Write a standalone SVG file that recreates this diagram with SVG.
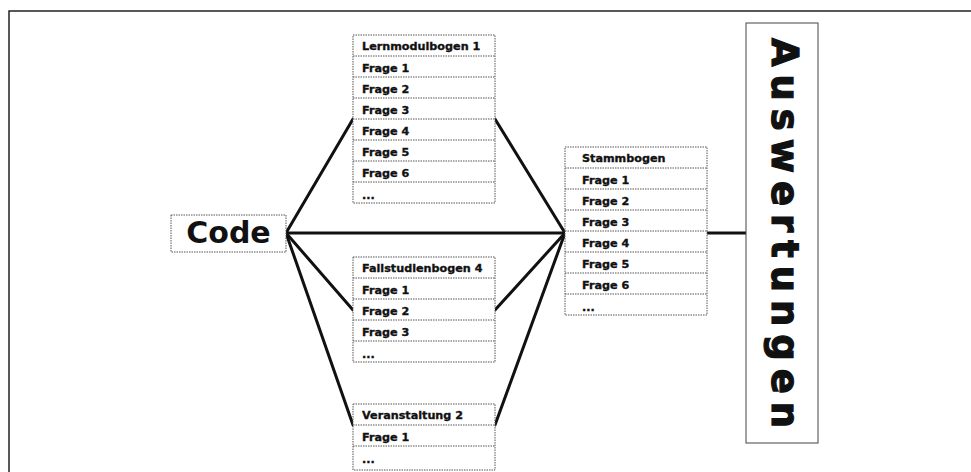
<svg xmlns="http://www.w3.org/2000/svg" width="971" height="472" viewBox="0 0 971 472">
<style>
.box{fill:#fff;stroke:#555;stroke-width:1;stroke-dasharray:1.5 1}
.sep{stroke:#555;stroke-width:1;stroke-dasharray:1.5 1}
.t{font-family:"DejaVu Sans",Verdana,sans-serif;font-weight:bold;font-size:11.2px;fill:#111;stroke:#111;stroke-width:0.35}
.con{stroke:#111;stroke-width:3;fill:none;stroke-linecap:round}
.frame{stroke:#222;stroke-width:1.5;fill:none}
</style>
<rect width="971" height="472" fill="#fff"/>
<path class="frame" d="M9,472 V11 H971"/>
<g id="connectors">
<line class="con" x1="286" y1="233" x2="565" y2="233"/>
<line class="con" x1="286" y1="233" x2="353" y2="119"/>
<line class="con" x1="286" y1="233" x2="353" y2="310"/>
<line class="con" x1="286" y1="233" x2="353" y2="425"/>
<line class="con" x1="495" y1="119" x2="565" y2="233"/>
<line class="con" x1="495" y1="310" x2="565" y2="233"/>
<line class="con" x1="495" y1="425" x2="565" y2="233"/>
<line class="con" x1="707" y1="233" x2="746" y2="233"/>
</g>
<g id="code">
<rect class="box" x="171" y="215" width="115" height="37"/>
<text x="228.5" y="243" text-anchor="middle" style="font-family:'DejaVu Sans',Verdana,sans-serif;font-weight:bold;font-size:30px;fill:#111">Code</text>
</g>
<g id="lernmodulbogen">
<rect class="box" x="353" y="35" width="142" height="168"/>
<line class="sep" x1="353" y1="56" x2="495" y2="56"/>
<line class="sep" x1="353" y1="77" x2="495" y2="77"/>
<line class="sep" x1="353" y1="98" x2="495" y2="98"/>
<line class="sep" x1="353" y1="119" x2="495" y2="119"/>
<line class="sep" x1="353" y1="140" x2="495" y2="140"/>
<line class="sep" x1="353" y1="161" x2="495" y2="161"/>
<line class="sep" x1="353" y1="182" x2="495" y2="182"/>
<text class="t" x="362" y="50">Lernmodulbogen 1</text>
<text class="t" x="362" y="72">Frage 1</text>
<text class="t" x="362" y="93">Frage 2</text>
<text class="t" x="362" y="114">Frage 3</text>
<text class="t" x="362" y="135">Frage 4</text>
<text class="t" x="362" y="156">Frage 5</text>
<text class="t" x="362" y="177">Frage 6</text>
<text class="t" x="362" y="199">...</text>
</g>
<g id="fallstudienbogen">
<rect class="box" x="353" y="257" width="142" height="105"/>
<line class="sep" x1="353" y1="278" x2="495" y2="278"/>
<line class="sep" x1="353" y1="299" x2="495" y2="299"/>
<line class="sep" x1="353" y1="320" x2="495" y2="320"/>
<line class="sep" x1="353" y1="341" x2="495" y2="341"/>
<text class="t" x="362" y="272">Fallstudienbogen 4</text>
<text class="t" x="362" y="294">Frage 1</text>
<text class="t" x="362" y="315">Frage 2</text>
<text class="t" x="362" y="336">Frage 3</text>
<text class="t" x="362" y="358">...</text>
</g>
<g id="veranstaltung">
<rect class="box" x="353" y="404" width="142" height="66"/>
<line class="sep" x1="353" y1="425" x2="495" y2="425"/>
<line class="sep" x1="353" y1="446" x2="495" y2="446"/>
<text class="t" x="362" y="419">Veranstaltung 2</text>
<text class="t" x="362" y="441">Frage 1</text>
<text class="t" x="362" y="463">...</text>
</g>
<g id="stammbogen">
<rect class="box" x="565" y="147" width="142" height="168"/>
<line class="sep" x1="565" y1="168" x2="707" y2="168"/>
<line class="sep" x1="565" y1="189" x2="707" y2="189"/>
<line class="sep" x1="565" y1="210" x2="707" y2="210"/>
<line class="sep" x1="565" y1="231" x2="707" y2="231"/>
<line class="sep" x1="565" y1="252" x2="707" y2="252"/>
<line class="sep" x1="565" y1="273" x2="707" y2="273"/>
<line class="sep" x1="565" y1="294" x2="707" y2="294"/>
<text class="t" x="582" y="162">Stammbogen</text>
<text class="t" x="582" y="184">Frage 1</text>
<text class="t" x="582" y="205">Frage 2</text>
<text class="t" x="582" y="226">Frage 3</text>
<text class="t" x="582" y="247">Frage 4</text>
<text class="t" x="582" y="268">Frage 5</text>
<text class="t" x="582" y="289">Frage 6</text>
<text class="t" x="582" y="311">...</text>
</g>
<g id="auswertungen">
<rect x="746" y="23" width="72" height="420" fill="#fff" stroke="#444" stroke-width="1"/>
<text transform="translate(772,38) rotate(90)" x="0" y="0" textLength="390" lengthAdjust="spacing" style="font-family:'DejaVu Sans',Verdana,sans-serif;font-weight:bold;font-size:37px;fill:#111;stroke:#111;stroke-width:1.2">Auswertungen</text>
</g>
</svg>
